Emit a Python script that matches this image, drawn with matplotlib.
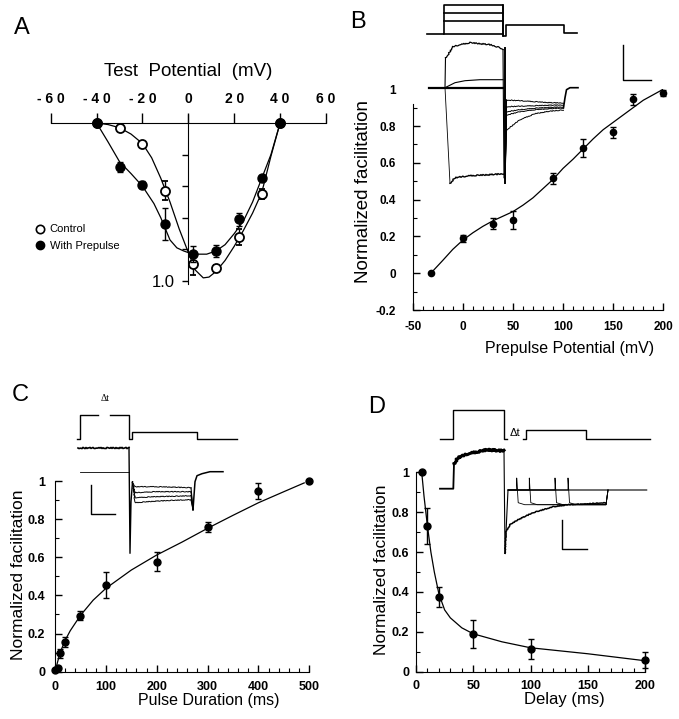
import matplotlib
matplotlib.use("Agg")
import matplotlib.pyplot as plt
from matplotlib.lines import Line2D
from matplotlib.ticker import MultipleLocator

plt.rcParams["font.family"] = ["Liberation Sans", "DejaVu Sans"]
plt.rcParams["axes.unicode_minus"] = False

W, H = 679, 719

# ---------------- data ----------------
# A: normalized current vs test potential
a_volts = [-40, -30, -20, -10, 2, 12, 22, 32, 40]
a_ctrl = [0.0, 0.03, 0.13, 0.43, 0.89, 0.92, 0.72, 0.45, 0.0]
a_ctrl_err = [0, 0.01, 0.015, 0.06, 0.07, 0.02, 0.05, 0.03, 0]
a_pre = [0.0, 0.28, 0.39, 0.64, 0.83, 0.81, 0.61, 0.35, 0.0]
a_pre_err = [0, 0.03, 0.02, 0.1, 0.05, 0.04, 0.04, 0.02, 0]
a_ctrl_fit_v = [-40, -35, -30, -25, -20, -16, -12, -8, -4, 0, 3, 6.5, 9, 12, 16, 20, 24, 28, 32, 36, 40]
a_ctrl_fit = [0, 0.01, 0.03, 0.07, 0.13, 0.22, 0.35, 0.5, 0.67, 0.82, 0.93, 0.98, 0.975, 0.94, 0.87, 0.78, 0.68, 0.57, 0.44, 0.21, 0]
a_pre_fit_v = [-40, -35, -30, -25, -20, -15, -12, -8, -5, -2, 0, 4, 8, 12, 16, 20, 24, 28, 32, 36, 40]
a_pre_fit = [0, 0.12, 0.245, 0.32, 0.40, 0.51, 0.6, 0.74, 0.79, 0.81, 0.82, 0.83, 0.83, 0.81, 0.77, 0.7, 0.62, 0.5, 0.35, 0.2, 0]
a_ticks = [-60, -40, -20, 0, 20, 40, 60]
a_ticklabels = ["- 6 0", "- 4 0", "- 2 0", "0", "2 0", "4 0", "6 0"]

# B: facilitation vs prepulse potential
b_volts = [-32, 0, 30, 50, 90, 120, 150, 170, 200]
b_fac = [0.0, 0.19, 0.27, 0.29, 0.515, 0.68, 0.765, 0.945, 0.98]
b_err = [0, 0.02, 0.03, 0.05, 0.03, 0.05, 0.03, 0.03, 0.015]
b_fit_v = [-32, -20, -10, 0, 10, 20, 30, 40, 50, 60, 70, 80, 90, 100, 110,
           120, 130, 140, 150, 160, 170, 180, 190, 200]
b_fit = [0, 0.07, 0.13, 0.18, 0.22, 0.255, 0.285, 0.31, 0.335, 0.37, 0.41, 0.46,
         0.51, 0.57, 0.62, 0.675, 0.73, 0.78, 0.82, 0.86, 0.9, 0.94, 0.97, 1.0]

# C: facilitation vs pulse duration
c_dur = [0, 5, 10, 20, 50, 100, 200, 300, 400, 500]
c_fac = [0.01, 0.02, 0.096, 0.157, 0.294, 0.455, 0.577, 0.76, 0.948, 1.0]
c_err = [0, 0.01, 0.025, 0.025, 0.025, 0.07, 0.05, 0.025, 0.04, 0]
c_fit_t = [0, 5, 10, 20, 30, 50, 75, 100, 150, 200, 250, 300, 350, 400, 450, 490]
c_fit = [0, 0.05, 0.1, 0.165, 0.215, 0.295, 0.375, 0.437, 0.533, 0.612, 0.68,
         0.752, 0.82, 0.886, 0.944, 0.99]

# D: facilitation vs delay
d_delay = [5, 10, 20, 50, 100, 200]
d_fac = [1.0, 0.732, 0.373, 0.189, 0.112, 0.0585]
d_err = [0, 0.09, 0.05, 0.07, 0.05, 0.04]
d_fit_t = [5, 7, 10, 13, 16, 20, 25, 30, 40, 50, 75, 100, 150, 200]
d_fit = [1.0, 0.88, 0.73, 0.6, 0.5, 0.39, 0.31, 0.27, 0.22, 0.19, 0.15, 0.12, 0.09, 0.055]

# inset traces (time in ms, voltage in mV, current in nA)
b_prot_t = [13, 47, 47, 165, 165, 172, 172, 288, 288, 313]
b_prot_v = [-80, -80, 140, 140, -95, -95, -12, -12, -70, -70]
b_prepulse_levels = [80, 20, -80]
b_out_t = [51, 56, 66, 80, 100, 120, 140, 160, 166]
b_out_i = [0.3, 0.33, 0.41, 0.43, 0.45, 0.44, 0.43, 0.4, 0.38]
b_small_t = [50, 70, 90, 120, 166]
b_small_i = [0, 0.05, 0.07, 0.08, 0.08]
b_flat_t = [18, 166]
b_flat_i = [0, 0]
b_in_t = [60, 70, 100, 140, 170]
b_in_i = [-0.956, -0.9, -0.88, -0.87, -0.86]
b_tail_t = [173, 200, 230, 260, 287]
b_tails = [
    [-0.123, -0.13, -0.14, -0.15, -0.153],
    [-0.19, -0.185, -0.18, -0.175, -0.173],
    [-0.24, -0.22, -0.205, -0.197, -0.193],
    [-0.273, -0.24, -0.22, -0.21, -0.203],
    [-0.423, -0.32, -0.26, -0.235, -0.223],
]
b_ret_t = [287, 290, 293, 300, 316]
b_ret_i = [-0.2, -0.1, -0.02, 0, 0]
b_bar_t = [406, 406, 462]
b_bar_i = [0.427, 0.077, 0.077]

c_prot1_t = [2, 5, 5, 23]
c_prot1_v = [-80, -80, 40, 40]
c_prot2_t = [35, 54, 54, 57, 57, 122, 122, 162]
c_prot2_v = [40, 40, -80, -80, -45, -45, -80, -80]
c_out_t = [3, 54]
c_out_i = [0.234, 0.234]
c_base_t = [5, 54]
c_base_i = [0, 0]
c_spike_t = [54, 55, 56, 57.5]
c_spike_i = [0.234, -0.816, -0.3, -0.1]
c_tail_t = [57.5, 60, 80, 100, 116]
c_tails = [
    [-0.1, -0.15, -0.15, -0.155, -0.16],
    [-0.1, -0.21, -0.2, -0.2, -0.2],
    [-0.1, -0.26, -0.25, -0.245, -0.24],
    [-0.1, -0.31, -0.295, -0.285, -0.28],
]
c_ret_t = [116, 118, 120, 122, 127, 135, 148]
c_ret_i = [-0.22, -0.38, -0.1, -0.04, -0.02, 0, 0]
c_bar_t = [16, 16, 40]
c_bar_i = [-0.133, -0.423, -0.423]

d_prot1_t = [2, 14.7, 14.7, 66, 66, 69.3]
d_prot1_v = [-80, -80, 40, 40, -80, -80]
d_prot2_t = [85.3, 88, 88, 148, 148, 212]
d_prot2_v = [-80, -80, -40, -40, -80, -80]
d_base_t = [2, 15.3, 16]
d_base_i = [0, 0, 0.25]
d_out_t = [16, 20, 30, 40, 50, 60, 66]
d_out_i = [0.25, 0.31, 0.35, 0.37, 0.39, 0.38, 0.38]
d_fall_t = [66, 67]
d_fall_i = [0.38, -0.646]
d_flat_t = [67, 70, 208.7]
d_flat_i = [-0.646, -0.013, -0.013]
d_low_t = [67, 68, 72, 80, 95, 115, 130, 150, 168]
d_low_i = [-0.646, -0.43, -0.36, -0.31, -0.24, -0.18, -0.16, -0.15, -0.14]
d_spike_times = [78.7, 91.3, 117, 130]
d_bar_t = [124.3, 124.3, 149.3]
d_bar_i = [-0.313, -0.603, -0.603]

# ---------------- figure ----------------
fig = plt.figure(figsize=(W / 100, H / 100), dpi=100)


def px_axes(x0, y0, x1, y1, **kw):
    return fig.add_axes([x0 / W, 1 - y1 / H, (x1 - x0) / W, (y1 - y0) / H], **kw)


def trace_axes(x0, y0, x1, y1, xlim, ylim):
    ax = px_axes(x0, y0, x1, y1)
    ax.set_xlim(*xlim)
    ax.set_ylim(*ylim)
    ax.set_axis_off()
    ax.patch.set_alpha(0)
    return ax


def fig_text(x, y, s, **kw):
    fig.text(x / W, 1 - y / H, s, **kw)


def noisy(ax, t, v, lw=0.8, scale=0.6):
    ln, = ax.plot(t, v, color="black", lw=lw, clip_on=False)
    ln.set_sketch_params(scale, 2.5, 2)
    return ln


# ---- panel A
axA = px_axes(50.7, 113.5, 326, 284.2)
axA.set_xlim(-60, 60)
axA.set_ylim(1.02, -0.06)
axA.patch.set_alpha(0)
for s in ["right", "bottom"]:
    axA.spines[s].set_visible(False)
axA.spines["top"].set_position(("data", 0))
axA.spines["left"].set_position(("data", 0))
axA.spines["left"].set_bounds(-0.05, 1.02)
axA.xaxis.tick_top()
axA.set_xticks(a_ticks)
axA.set_xticklabels(a_ticklabels, fontweight="bold")
axA.tick_params(axis="x", direction="out", length=7, width=1, pad=5, labelsize=10)
axA.set_yticks([0.2, 0.4, 0.6, 0.8, 1.0])
axA.set_yticklabels(["", "", "", "", "1.0"])
axA.tick_params(axis="y", direction="out", length=4, width=1, pad=6, labelsize=12)
axA.plot(a_ctrl_fit_v, a_ctrl_fit, color="black", lw=0.9)
axA.plot(a_pre_fit_v, a_pre_fit, color="black", lw=0.9)
axA.errorbar(a_volts, a_ctrl, yerr=a_ctrl_err, fmt="o", ms=6.5, mfc="white", mec="black",
             mew=1.3, ecolor="black", elinewidth=1, capsize=2, clip_on=False, zorder=3)
axA.errorbar(a_volts, a_pre, yerr=a_pre_err, fmt="o", ms=6.5, mfc="black", mec="black",
             ecolor="black", elinewidth=1, capsize=2, clip_on=False, zorder=4)
fig_text(188.3, 71, "Test  Potential  (mV)", fontsize=13.5, ha="center", va="center")
handles = [Line2D([], [], ls="none", marker="o", ms=6, mfc="white", mec="black", mew=1.2),
           Line2D([], [], ls="none", marker="o", ms=6, mfc="black", mec="black")]
fig.legend(handles, ["Control", "With Prepulse"], loc="center left",
           bbox_to_anchor=(34 / W, 1 - 237.5 / H), frameon=False, fontsize=8,
           handlelength=1, handletextpad=0.4, labelspacing=0.55, borderpad=0,
           borderaxespad=0)


def style_axes(ax, xmajor, xminor, ymajor, yminor, labelsize, xpad, ypad):
    for s in ["top", "right"]:
        ax.spines[s].set_visible(False)
    ax.patch.set_alpha(0)
    ax.xaxis.set_major_locator(MultipleLocator(xmajor))
    ax.xaxis.set_minor_locator(MultipleLocator(xminor))
    ax.yaxis.set_major_locator(MultipleLocator(ymajor))
    ax.yaxis.set_minor_locator(MultipleLocator(yminor))
    ax.tick_params(which="major", direction="in", length=5, width=1, labelsize=labelsize)
    ax.tick_params(which="minor", direction="in", length=3, width=0.8)
    ax.tick_params(axis="x", pad=xpad)
    ax.tick_params(axis="y", pad=ypad)
    for lab in ax.get_xticklabels() + ax.get_yticklabels():
        lab.set_fontweight("bold")


def ylab(v):
    return "0" if abs(v) < 1e-9 else ("1" if abs(v - 1) < 1e-9 else f"{v:.1f}")


# ---- panel B
axB = px_axes(412.7, 89.2, 663.3, 310.1)
axB.set_xlim(-50, 200)
axB.set_ylim(-0.2, 1.0)
style_axes(axB, 50, 10, 0.2, 0.1, 8.5, 8, 12)
axB.spines["left"].set_bounds(-0.2, 0.92)
yt = [-0.2, 0, 0.2, 0.4, 0.6, 0.8, 1.0]
axB.set_yticks(yt)
axB.set_yticklabels([ylab(v) for v in yt], fontweight="bold")
axB.yaxis.get_major_ticks()[-1].tick1line.set_visible(False)
axB.plot(b_fit_v, b_fit, color="black", lw=0.9)
axB.errorbar(b_volts, b_fac, yerr=b_err, fmt="o", ms=4.5, color="black",
             elinewidth=1, capsize=2, clip_on=False, zorder=4)
axB.set_ylabel("Normalized facilitation", fontsize=13.5)
axB.yaxis.set_label_coords(-0.162, 0.536)
axB.set_xlabel("Prepulse Potential (mV)", fontsize=11.5)
axB.xaxis.set_label_coords(0.625, -0.14)
axB.xaxis.label.set_va("top")

# ---- panel C
axC = px_axes(55, 481, 309.3, 671.7)
axC.set_xlim(0, 500)
axC.set_ylim(0, 1.0)
style_axes(axC, 100, 20, 0.2, 0.1, 9, 7, 7)
yt = [0, 0.2, 0.4, 0.6, 0.8, 1.0]
axC.set_yticks(yt)
axC.set_yticklabels([ylab(v) for v in yt], fontweight="bold")
axC.plot(c_fit_t, c_fit, color="black", lw=0.9)
axC.errorbar(c_dur, c_fac, yerr=c_err, fmt="o", ms=5, color="black",
             elinewidth=1, capsize=2, clip_on=False, zorder=4)
axC.set_ylabel("Normalized facilitation", fontsize=12.5)
axC.yaxis.set_label_coords(-0.114, 0.507)
axC.set_xlabel("Pulse Duration (ms)", fontsize=11.5)
axC.xaxis.set_label_coords(0.603, -0.11)
axC.xaxis.label.set_va("top")

# ---- panel D
axD = px_axes(416, 472.3, 645, 671.7)
axD.set_xlim(0, 200)
axD.set_ylim(0, 1.0)
style_axes(axD, 50, 10, 0.2, 0.1, 9, 6, 5)
axD.set_yticks(yt)
axD.set_yticklabels([ylab(v) for v in yt], fontweight="bold")
axD.plot(d_fit_t, d_fit, color="black", lw=0.9)
axD.errorbar(d_delay, d_fac, yerr=d_err, fmt="o", ms=5, color="black",
             elinewidth=1, capsize=2, clip_on=False, zorder=4)
axD.set_ylabel("Normalized facilitation", fontsize=12.5)
axD.yaxis.set_label_coords(-0.12, 0.51)
axD.set_xlabel("Delay (ms)", fontsize=12)
axD.xaxis.set_label_coords(0.646, -0.1)
axD.xaxis.label.set_va("top")

# ---- inset traces
tr = dict(color="black", lw=0.8, clip_on=False)

# B
ip = trace_axes(420, 0, 630, 40, (0, 420), (-125, 175))
ip.plot(b_prot_t, b_prot_v, lw=1.2, color="black", clip_on=False)
for lvl in b_prepulse_levels:
    ip.plot([47, 165], [lvl, lvl], lw=1.2, color="black", clip_on=False)
ip.plot([165, 165], [140, -95], lw=1.2, color="black", clip_on=False)
ic = trace_axes(420, 40, 630, 190, (0, 420), (-1.023, 0.477))
ic.plot([50, 51], [0.0, 0.3], **tr)
noisy(ic, b_out_t, b_out_i, lw=0.9)
ic.plot([166, 168], [0.38, -0.9], **tr)
ic.plot(b_small_t, b_small_i, **tr)
ic.plot(b_flat_t, b_flat_i, color="black", lw=1.6, clip_on=False)
ic.plot([50, 60], [0, -0.956], lw=0.6, color="black", clip_on=False)
noisy(ic, b_in_t, b_in_i, lw=1.0)
ic.plot([170, 170], [0.4, -0.95], color="black", lw=1.4, clip_on=False)
for tail in b_tails:
    ic.plot([170, b_tail_t[0]], [-0.9, tail[0]], **tr)
    noisy(ic, b_tail_t, tail, lw=0.7, scale=0.4)
ic.plot(b_ret_t, b_ret_i, color="black", lw=1.2, clip_on=False)
ic.plot(b_bar_t, b_bar_i, color="black", lw=1, clip_on=False)

# C
ip = trace_axes(75, 405, 240, 445, (0, 165), (-108, 89))
ip.plot(c_prot1_t, c_prot1_v, lw=1, color="black", clip_on=False)
ip.plot(c_prot2_t, c_prot2_v, lw=1, color="black", clip_on=False)
ip.text(30, 100, "Δt", fontsize=7, ha="center", va="bottom",
        family=["Liberation Serif", "DejaVu Serif"])
ic = trace_axes(75, 440, 240, 560, (0, 165), (-0.883, 0.317))
noisy(ic, c_out_t, c_out_i, lw=1.2)
ic.plot(c_base_t, c_base_i, lw=0.6, color="black", clip_on=False)
ic.plot(c_spike_t, c_spike_i, lw=1.0, color="black", clip_on=False)
for tail in c_tails:
    noisy(ic, c_tail_t, tail, lw=0.7, scale=0.4)
    ic.plot([c_tail_t[-1], c_ret_t[1]], [tail[-1], c_ret_i[1]], **tr)
ic.plot(c_ret_t[1:], c_ret_i[1:], color="black", lw=1.1, clip_on=False)
ic.plot(c_bar_t, c_bar_i, color="black", lw=1, clip_on=False)

# D
ip = trace_axes(438, 405, 652, 445, (0, 214), (-103.6, 62))
ip.plot(d_prot1_t, d_prot1_v, lw=1, color="black", clip_on=False)
ip.plot(d_prot2_t, d_prot2_v, lw=1, color="black", clip_on=False)
ip.text(77, -52, "Δt", fontsize=8, ha="center", va="center")
ic = trace_axes(438, 445, 652, 560, (0, 214), (-0.713, 0.437))
ic.plot(d_base_t, d_base_i, color="black", lw=1.3, clip_on=False)
noisy(ic, d_out_t, d_out_i, lw=2.2, scale=0.8)
ic.plot(d_fall_t, d_fall_i, **tr)
ic.plot(d_flat_t, d_flat_i, **tr)
noisy(ic, d_low_t, d_low_i, lw=1.1, scale=0.4)
for ts in d_spike_times:
    ic.plot([70, ts, ts, ts + 1.5, ts + 8, 168, 170],
            [-0.013, -0.013, 0.107, -0.14, -0.16, -0.16, -0.013], lw=0.6,
            color="black", clip_on=False)
ic.plot(d_bar_t, d_bar_i, color="black", lw=1, clip_on=False)

# panel letters
for (x, y), letter in zip([(22, 28), (358, 22), (20, 395), (377, 407)], "ABCD"):
    fig_text(x, y, letter, fontsize=17, ha="center", va="center")

fig.savefig("out.png", dpi=100)
